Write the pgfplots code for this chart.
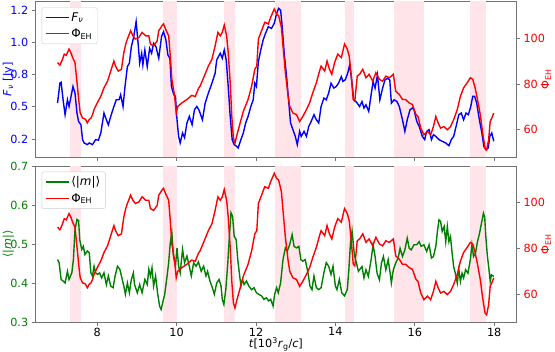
\documentclass[border=0pt]{standalone}
\usepackage{fontspec}
\setmainfont{DejaVu Sans}
\usepackage{pgfplots}
\usepackage{pgfplotstable}
\pgfplotsset{compat=1.18}

\definecolor{mblue}{rgb}{0,0,1}
\definecolor{mred}{rgb}{1,0,0}
\definecolor{mgreen}{rgb}{0,0.5,0}
\definecolor{band}{RGB}{255,228,233}
\definecolor{spine}{gray}{0.45}

% magnetic flux on the horizon (shared by both panels)
\pgfplotstableread{
t phi
7.00 89.3
7.06 88.2
7.12 90.5
7.17 93.0
7.22 92.5
7.25 93.7
7.29 95.2
7.34 93.5
7.38 91.5
7.44 89.3
7.50 79.0
7.54 72.0
7.57 67.5
7.63 65.1
7.68 64.8
7.71 64.4
7.75 63.0
7.80 64.5
7.84 65.0
7.88 66.5
7.92 68.8
8.00 71.7
8.09 74.6
8.17 78.3
8.26 81.2
8.34 85.6
8.42 90.0
8.46 87.8
8.53 85.6
8.61 86.4
8.67 93.7
8.72 97.5
8.76 99.6
8.84 103.2
8.90 101.0
8.96 99.6
9.05 100.3
9.13 102.5
9.22 101.0
9.30 101.0
9.34 97.4
9.42 96.6
9.51 98.8
9.55 103.2
9.63 105.4
9.67 106.2
9.72 104.0
9.80 101.0
9.84 92.2
9.88 82.0
9.95 74.6
9.99 67.3
10.03 70.2
10.13 71.7
10.26 73.2
10.38 75.0
10.47 74.5
10.55 78.0
10.59 79.0
10.68 82.7
10.80 87.8
10.89 90.8
10.97 96.6
11.04 102.5
11.10 101.0
11.15 102.5
11.20 105.7
11.26 101.0
11.30 93.7
11.35 80.5
11.39 65.8
11.43 56.4
11.47 54.2
11.51 57.1
11.60 62.9
11.68 68.0
11.80 73.2
11.89 79.0
11.97 86.4
12.02 87.8
12.06 99.6
12.14 103.2
12.22 106.9
12.31 106.2
12.37 109.1
12.46 112.7
12.52 110.5
12.57 109.8
12.64 104.7
12.68 96.6
12.74 84.9
12.81 74.6
12.85 70.2
12.93 67.3
13.02 66.6
13.10 63.6
13.18 65.8
13.27 68.8
13.35 71.7
13.43 76.1
13.52 80.5
13.60 85.6
13.64 87.8
13.73 85.6
13.79 90.0
13.85 86.4
13.91 84.2
13.98 89.3
14.06 93.0
14.15 91.5
14.23 97.4
14.30 95.2
14.35 92.0
14.40 83.4
14.45 73.2
14.49 72.5
14.55 83.4
14.61 84.2
14.69 86.4
14.77 82.7
14.85 84.2
14.94 81.2
15.02 84.9
15.11 82.0
15.19 81.2
15.27 83.4
15.36 82.7
15.46 84.2
15.52 76.8
15.61 75.4
15.69 73.2
15.77 73.2
15.86 71.7
15.94 71.0
16.03 66.6
16.08 65.8
16.15 60.7
16.23 57.8
16.32 59.3
16.40 57.8
16.47 61.4
16.53 65.8
16.59 62.9
16.65 60.7
16.73 61.4
16.82 60.0
16.90 61.4
16.98 64.4
17.07 68.8
17.15 74.6
17.23 78.3
17.32 80.5
17.40 82.7
17.46 82.0
17.52 78.3
17.58 73.2
17.65 66.6
17.71 58.6
17.77 52.0
17.81 51.2
17.86 55.6
17.90 63.6
17.94 65.1
17.99 67.3
}\phitab

% flux density
\pgfplotstableread{
t f
7.00 0.528
7.06 0.683
7.09 0.690
7.14 0.554
7.19 0.438
7.25 0.554
7.29 0.502
7.34 0.580
7.39 0.657
7.44 0.606
7.49 0.451
7.53 0.386
7.59 0.360
7.63 0.245
7.67 0.219
7.75 0.206
7.80 0.219
7.88 0.206
7.96 0.245
8.03 0.240
8.09 0.296
8.17 0.451
8.23 0.399
8.28 0.360
8.34 0.425
8.42 0.502
8.48 0.554
8.55 0.554
8.59 0.593
8.65 0.502
8.70 0.657
8.76 0.812
8.81 0.838
8.86 0.966
8.92 1.044
8.98 1.160
9.03 0.992
9.07 0.838
9.12 0.915
9.15 0.825
9.20 0.940
9.26 0.812
9.32 0.953
9.37 0.915
9.42 0.992
9.48 0.966
9.55 0.876
9.62 1.044
9.67 1.082
9.73 1.018
9.78 0.902
9.83 0.876
9.87 0.657
9.93 0.593
9.97 0.580
10.01 0.399
10.05 0.270
10.09 0.219
10.15 0.296
10.20 0.260
10.26 0.374
10.32 0.425
10.39 0.360
10.45 0.477
10.51 0.502
10.57 0.470
10.65 0.399
10.72 0.528
10.80 0.606
10.89 0.683
10.97 0.760
11.01 0.863
11.10 0.915
11.15 0.876
11.20 0.940
11.25 0.863
11.30 0.657
11.35 0.425
11.40 0.245
11.45 0.206
11.51 0.193
11.55 0.180
11.62 0.245
11.68 0.296
11.74 0.374
11.80 0.425
11.87 0.502
11.93 0.554
11.97 0.683
12.01 0.657
12.06 0.850
12.12 0.940
12.18 1.018
12.24 1.070
12.31 1.121
12.39 1.108
12.46 1.147
12.52 1.224
12.57 1.263
12.62 1.250
12.66 1.121
12.71 0.915
12.77 0.734
12.82 0.554
12.87 0.374
12.93 0.322
12.99 0.270
13.04 0.206
13.10 0.309
13.14 0.270
13.21 0.309
13.27 0.270
13.33 0.348
13.39 0.386
13.46 0.438
13.52 0.399
13.58 0.374
13.64 0.502
13.71 0.567
13.77 0.554
13.83 0.606
13.89 0.683
13.96 0.645
14.02 0.657
14.08 0.683
14.15 0.734
14.19 0.696
14.25 0.710
14.31 0.760
14.36 0.825
14.41 0.709
14.46 0.554
14.52 0.540
14.61 0.502
14.67 0.540
14.72 0.490
14.77 0.515
14.84 0.464
14.90 0.593
14.95 0.696
15.00 0.645
15.06 0.747
15.12 0.554
15.19 0.645
15.25 0.709
15.31 0.720
15.37 0.709
15.41 0.528
15.48 0.554
15.55 0.540
15.61 0.502
15.69 0.399
15.75 0.309
15.81 0.399
15.88 0.477
15.94 0.490
15.98 0.477
16.05 0.386
16.11 0.348
16.19 0.270
16.25 0.245
16.30 0.309
16.36 0.322
16.42 0.245
16.47 0.283
16.53 0.270
16.61 0.245
16.69 0.232
16.78 0.219
16.86 0.198
16.92 0.245
16.98 0.270
17.05 0.360
17.11 0.438
17.17 0.451
17.23 0.399
17.29 0.451
17.35 0.438
17.41 0.502
17.46 0.580
17.51 0.580
17.56 0.528
17.62 0.412
17.69 0.296
17.74 0.193
17.79 0.167
17.85 0.180
17.89 0.270
17.94 0.296
17.99 0.232
}\ftab

% mean |m|
\pgfplotstableread{
t m
7.00 0.460
7.04 0.452
7.09 0.409
7.14 0.405
7.19 0.400
7.25 0.430
7.29 0.409
7.36 0.426
7.40 0.460
7.44 0.537
7.49 0.563
7.53 0.560
7.56 0.511
7.61 0.486
7.65 0.494
7.69 0.473
7.75 0.482
7.80 0.477
7.84 0.426
7.88 0.418
7.92 0.443
7.96 0.426
8.01 0.422
8.06 0.426
8.11 0.413
8.17 0.426
8.23 0.396
8.28 0.418
8.34 0.392
8.40 0.388
8.45 0.418
8.51 0.443
8.57 0.435
8.61 0.418
8.67 0.392
8.71 0.371
8.76 0.400
8.81 0.375
8.86 0.409
8.91 0.426
8.94 0.396
9.01 0.375
9.07 0.396
9.13 0.375
9.20 0.409
9.26 0.396
9.30 0.435
9.34 0.418
9.38 0.439
9.42 0.392
9.47 0.418
9.52 0.375
9.57 0.341
9.61 0.332
9.65 0.350
9.70 0.371
9.76 0.418
9.80 0.452
9.84 0.503
9.88 0.529
9.92 0.469
9.97 0.443
10.01 0.490
10.05 0.443
10.09 0.426
10.15 0.486
10.20 0.452
10.26 0.469
10.32 0.443
10.37 0.418
10.43 0.452
10.49 0.443
10.55 0.454
10.62 0.430
10.68 0.443
10.74 0.418
10.78 0.430
10.84 0.405
10.90 0.388
10.95 0.371
11.01 0.400
11.07 0.409
11.12 0.392
11.15 0.358
11.19 0.345
11.24 0.384
11.29 0.452
11.33 0.520
11.37 0.580
11.41 0.571
11.45 0.520
11.50 0.511
11.54 0.460
11.58 0.426
11.62 0.392
11.66 0.409
11.70 0.396
11.76 0.405
11.82 0.392
11.89 0.383
11.95 0.388
12.01 0.375
12.07 0.371
12.14 0.367
12.20 0.358
12.26 0.362
12.32 0.354
12.37 0.358
12.43 0.341
12.47 0.371
12.52 0.388
12.56 0.375
12.62 0.400
12.68 0.460
12.74 0.490
12.79 0.482
12.85 0.499
12.91 0.524
12.96 0.494
13.02 0.490
13.08 0.494
13.13 0.460
13.18 0.456
13.24 0.460
13.31 0.426
13.36 0.392
13.41 0.383
13.46 0.418
13.52 0.388
13.58 0.383
13.64 0.388
13.71 0.426
13.77 0.452
13.83 0.443
13.89 0.422
13.94 0.443
14.00 0.392
14.04 0.383
14.10 0.409
14.16 0.375
14.23 0.367
14.30 0.383
14.34 0.435
14.38 0.503
14.42 0.533
14.48 0.470
14.53 0.452
14.58 0.430
14.61 0.434
14.67 0.442
14.72 0.413
14.77 0.434
14.83 0.417
14.90 0.460
14.95 0.498
15.00 0.468
15.05 0.425
15.11 0.408
15.16 0.451
15.21 0.468
15.27 0.434
15.33 0.460
15.38 0.425
15.41 0.400
15.46 0.434
15.52 0.451
15.58 0.464
15.63 0.489
15.69 0.468
15.75 0.485
15.81 0.515
15.86 0.489
15.91 0.485
15.98 0.498
16.05 0.498
16.11 0.506
16.16 0.494
16.23 0.498
16.30 0.481
16.36 0.498
16.42 0.464
16.47 0.468
16.53 0.494
16.57 0.532
16.61 0.562
16.65 0.558
16.69 0.532
16.74 0.545
16.78 0.506
16.82 0.545
16.86 0.506
16.90 0.519
16.94 0.477
16.98 0.442
17.03 0.421
17.07 0.400
17.11 0.434
17.15 0.404
17.19 0.425
17.23 0.413
17.28 0.434
17.34 0.425
17.40 0.460
17.44 0.498
17.48 0.468
17.53 0.477
17.58 0.506
17.63 0.527
17.68 0.553
17.73 0.579
17.76 0.570
17.79 0.519
17.83 0.468
17.87 0.434
17.90 0.404
17.93 0.421
17.99 0.417
}\mtab

\newcommand\fs{\fontsize{11.3}{13}\selectfont}
\newcommand\fl{\fontsize{12}{14}\selectfont}

\pgfplotsset{
  base/.style={
    width=480.3bp, scale only axis,
    xmin=6.45, xmax=18.55, xtick={8,10,...,18},
    tick align=outside, major tick length=4bp,
    tick style={spine, line width=0.6bp},
    axis line style={spine, line width=0.8bp},
    /pgf/number format/assume math mode=true,
    tick label style={font=\fs},
    xticklabel style={inner sep=1.5bp},
  },
  lefty/.style={every axis y label/.style={at={(axis description cs:-0.057,0.5)},
      rotate=90, anchor=center, font=\fs}},
  righty/.style={every axis y label/.style={at={(axis description cs:1.0625,0.5)},
      rotate=90, anchor=center, font=\fs}},
  leg/.style={
    legend style={at={(0.0125,0.964)}, anchor=north west, draw=black!20,
      rounded corners=2bp, fill=white, font=\fl, inner sep=3bp, row sep=2bp},
    legend cell align=left,
  },
  ln/.style={line width=1.4bp},
  % legend sample with its colour written into the image itself
  keyline/.style={legend image code/.code={%
      \draw[#1, line width=1.4bp] (0bp,0bp) -- (23bp,0bp);}},
}

% shaded intervals, #1 = a y value above the top of the axis
\newcommand\bands[1]{
  \addplot[draw=none, fill=band, forget plot] coordinates {(7.31,#1) (7.60,#1)} \closedcycle;
  \addplot[draw=none, fill=band, forget plot] coordinates {(9.66,#1) (10.01,#1)} \closedcycle;
  \addplot[draw=none, fill=band, forget plot] coordinates {(11.20,#1) (11.46,#1)} \closedcycle;
  \addplot[draw=none, fill=band, forget plot] coordinates {(12.47,#1) (13.13,#1)} \closedcycle;
  \addplot[draw=none, fill=band, forget plot] coordinates {(14.25,#1) (14.47,#1)} \closedcycle;
  \addplot[draw=none, fill=band, forget plot] coordinates {(15.48,#1) (16.23,#1)} \closedcycle;
  \addplot[draw=none, fill=band, forget plot] coordinates {(17.39,#1) (17.80,#1)} \closedcycle;
}

\begin{document}
\begin{tikzpicture}
\path[use as bounding box] (0bp,0bp) rectangle (555bp,352bp);

% top panel, left scale
\begin{axis}[base, lefty, at={(35.7bp,195bp)}, anchor=south west, height=155.3bp,
  ymin=0.11, ymax=1.315,
  ytick={0.25,0.5,0.75,1.0,1.25}, yticklabels={0.2,0.5,0.8,1.0,1.2},
  ytick pos=left, xtick pos=bottom, xticklabels={},
  yticklabel style={mblue},
  ylabel={\textit{F}\textsubscript{\textit{ν}} [Jy]}, ylabel style={mblue}]
\bands{1.5}
\addplot[mblue, ln, forget plot] table[x=t, y=f] {\ftab};
\end{axis}
% top panel, right scale (carries the legend)
\begin{axis}[base, righty, leg, at={(35.7bp,195bp)}, anchor=south west, height=155.3bp,
  ymin=48.1, ymax=115.9, ytick={60,80,100},
  axis y line*=right, axis x line=none,
  yticklabel style={mred},
  ylabel={Φ\textsubscript{EH}}, ylabel style={mred}]
\addplot[mred, ln, forget plot] table[x=t, y=phi] {\phitab};
\addlegendimage{keyline=mblue}
\addlegendentry{\textit{F}\textsubscript{\textit{ν}}}
\addlegendimage{keyline=mred}
\addlegendentry{Φ\textsubscript{EH}}
\end{axis}

% bottom panel, left scale
\begin{axis}[base, lefty, at={(35.7bp,30bp)}, anchor=south west, height=156bp,
  ymin=0.3, ymax=0.7, ytick={0.3,0.4,...,0.7},
  yticklabel style={mgreen, /pgf/number format/.cd, fixed, fixed zerofill, precision=1},
  ytick pos=left, xtick pos=bottom,
  ylabel={⟨|\textit{m}|⟩}, ylabel style={mgreen},
  xlabel={\textit{t}[10\textsuperscript{3}\textit{r}\textsubscript{g}/\textit{c}]},
  xlabel style={at={(axis description cs:0.5,-0.142)}, anchor=center, font=\fs}]
\bands{1}
\addplot[mgreen, ln, forget plot] table[x=t, y=m] {\mtab};
\end{axis}
% bottom panel, right scale (carries the legend)
\begin{axis}[base, righty, leg, at={(35.7bp,30bp)}, anchor=south west, height=156bp,
  ymin=48.1, ymax=115.9, ytick={60,80,100},
  axis y line*=right, axis x line=none,
  yticklabel style={mred},
  ylabel={Φ\textsubscript{EH}}, ylabel style={mred}]
\addplot[mred, ln, forget plot] table[x=t, y=phi] {\phitab};
\addlegendimage{keyline=mgreen}
\addlegendentry{⟨|\textit{m}|⟩}
\addlegendimage{keyline=mred}
\addlegendentry{Φ\textsubscript{EH}}
\end{axis}
\end{tikzpicture}
\end{document}
